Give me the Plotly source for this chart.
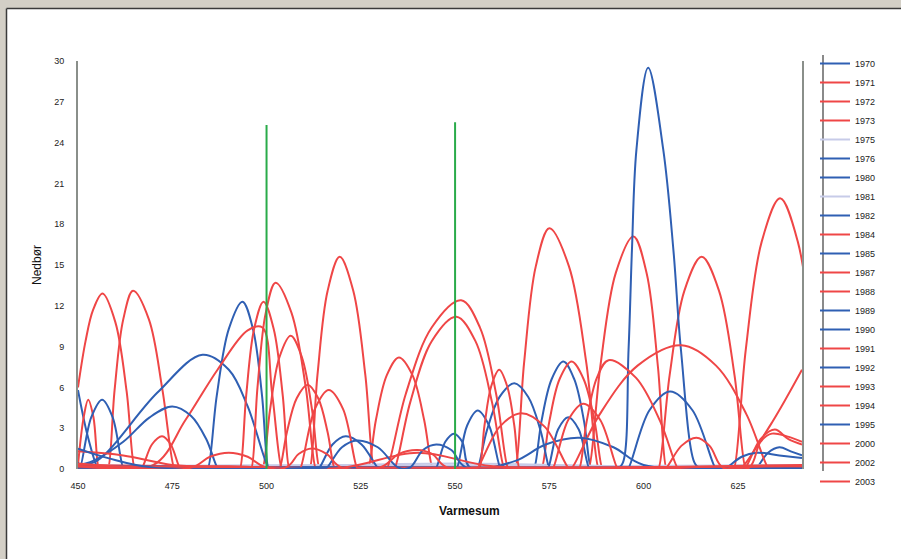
import plotly.graph_objects as go

# ---------------- data ----------------
years = ["1970", "1971", "1972", "1973", "1975", "1976", "1980", "1981", "1982", "1984",
         "1985", "1987", "1988", "1989", "1990", "1991", "1992", "1993", "1994", "1995",
         "2000", "2002", "2003"]

BLUE = "#2f5fb3"
RED = "#ef4646"
LAV = "#c7cbe8"
colors = [BLUE, RED, RED, RED, LAV, BLUE, BLUE, LAV, BLUE, RED,
          BLUE, RED, RED, BLUE, BLUE, RED, BLUE, RED, RED, BLUE,
          RED, RED, RED]

x1970 = [450, 452.5, 455, 455.3, 570.7, 571, 572.9, 575.6, 578.7, 581.6, 584.2, 586, 586.3, 642]
y1970 = [5.8, 2.5, 0.2, 0.1, 0.1, 0.1, 3.5, 6.6, 7.9, 6.6, 3.5, 0.1, 0.1, 0.3]
x1971 = [450, 452, 454, 456.5, 459.9, 462.9, 465, 465.3, 511.2, 511.5, 513.5, 516.2, 519.4, 523.0,
         526.2, 528.5, 528.8, 565.7, 566, 568.3, 571.4, 575, 580.2, 584.8, 588, 588.3, 642]
y1971 = [6.0, 9.4, 11.7, 12.9, 10.8, 5.7, 0.1, 0.1, 0.1, 0.1, 6.9, 13.1, 15.6, 13.1,
         6.9, 0.1, 0.1, 0.1, 0.1, 7.8, 14.9, 17.7, 14.9, 7.8, 0.1, 0.1, 0.1]
x1972 = [450, 457.7, 458, 459.7, 462.0, 464.6, 468.8, 472.4, 475.5, 475.8, 526.7, 527, 529.0, 531.9,
         535.1, 538.7, 541.8, 544, 544.3, 585.2, 585.5, 588.5, 592.6, 597.3, 600.8, 603.8, 606,
         606.3, 642]
y1972 = [0.3, 0.1, 0.1, 5.8, 11.0, 13.1, 11.0, 5.8, 0.1, 0.1, 0.1, 0.1, 3.6, 6.9,
         8.2, 6.9, 3.6, 0.1, 0.1, 0.1, 0.1, 7.5, 14.4, 17.1, 14.4, 7.5, 0.1,
         0.1, 0.3]
x1973 = [450, 451.5, 452.7, 454.1, 455.5, 455.8, 498.7, 499, 500.9, 503.4, 506.4, 509.4, 512.1, 514,
         514.3, 572.7, 573, 575.0, 577.7, 580.9, 584.1, 587.0, 589, 589.3, 642]
y1973 = [0.3, 3.8, 5.1, 3.8, 0.1, 0.1, 0.1, 0.1, 4.3, 8.2, 9.8, 8.2, 4.3, 0.1,
         0.1, 0.1, 0.1, 3.5, 6.6, 7.9, 6.6, 3.5, 0.1, 0.1, 0.2]
x1975 = [450, 500, 550, 600, 642]
y1975 = [0.3, 0.2, 0.4, 0.2, 0.3]
x1976 = [450, 450.5, 453.5, 456.4, 459.2, 462, 462.3, 555.7, 556, 558.4, 561.8, 565.7, 569.4, 572.7,
         575, 575.3, 629.7, 630, 633, 636, 639, 642]
y1976 = [0.5, 0.1, 3.8, 5.1, 3.8, 0.1, 0.1, 0.1, 0.1, 2.8, 5.3, 6.3, 5.3, 2.8,
         0.1, 0.1, 0.1, 0.1, 1.2, 1.6, 1.3, 1.0]
x1980 = [450, 455, 471, 483, 490, 495, 500.5, 500.8, 642]
y1980 = [0.3, 0.6, 5.6, 8.4, 7.3, 4.6, 0.1, 0.1, 0.1]
x1981 = [450, 520, 580, 642]
y1981 = [0.2, 0.3, 0.2, 0.3]
x1982 = [450, 484.2, 484.5, 486.8, 490.0, 493.6, 496.4, 498.8, 500.5, 500.8, 550.2, 550.5, 553.2, 556,
         559, 562, 562.3, 642]
y1982 = [0.1, 0.1, 0.1, 5.4, 10.3, 12.3, 10.3, 5.4, 0.1, 0.1, 0.1, 0.1, 3.2, 4.3,
         3.2, 0.1, 0.1, 0.1]
x1984 = [450, 466.7, 467, 469.6, 472.3, 474.6, 477, 477.3, 495.7, 496, 497.6, 499.8, 502.4, 506.6,
         510.4, 513, 513.3, 603.7, 604, 606.9, 610.8, 615.4, 620.0, 624.1, 627, 627.3, 642]
y1984 = [0.2, 0.1, 0.1, 1.8, 2.4, 1.8, 0.1, 0.1, 0.1, 0.1, 6.0, 11.5, 13.7, 11.5,
         6.0, 0.1, 0.1, 0.1, 0.1, 6.9, 13.1, 15.6, 13.1, 6.9, 0.1, 0.1, 0.2]
x1985 = [450, 593, 594.4, 596, 596.9, 598.1, 601.2, 605.2, 607.9, 609.9, 613.6, 615, 642]
y1985 = [0.1, 0.1, 0.4, 8.75, 16.1, 23.5, 29.5, 23.5, 16.1, 8.75, 0.4, 0.1, 0.1]
x1987 = [450, 470, 478.5, 487, 495, 498.9, 501.5, 504, 504.3, 556.2, 556.5, 557.8, 559.6, 561.7,
         563.8, 565.7, 567, 567.3, 623.7, 624, 627.1, 631.3, 636.2, 640.9, 645.1, 648]
y1987 = [0.2, 0.3, 3.6, 7.3, 10.2, 10.4, 5.5, 0.1, 0.1, 0.1, 0.1, 3.2, 6.1, 7.3,
         6.1, 3.2, 0.1, 0.1, 0.1, 0.1, 8.8, 16.7, 19.9, 16.7, 8.8, 0.1]
x1988 = [450, 492.7, 493, 494.6, 496.7, 499.2, 501.9, 504.3, 506, 506.3, 531.7, 532, 536.9, 543.8,
         551.6, 556.6, 560.9, 564, 564.3, 580.7, 581, 588.3, 598.4, 610, 619.2, 627.3, 633, 633.3, 642]
y1988 = [0.1, 0.1, 0.1, 5.4, 10.3, 12.3, 10.3, 5.4, 0.1, 0.1, 0.1, 0.1, 5.5, 10.4,
         12.4, 10.4, 5.5, 0.1, 0.1, 0.1, 0.1, 4.0, 7.6, 9.1, 7.6, 4.0, 0.1, 0.1, 0.2]
x1989 = [450, 454, 462, 469, 475, 480, 484, 487, 487.3, 574.4, 574.7, 577.3, 580, 582.8, 585.5, 585.8, 642]
y1989 = [0.3, 0.6, 2.0, 3.8, 4.6, 3.9, 2.2, 0.1, 0.1, 0.1, 0.1, 2.9, 3.8, 2.9, 0.1, 0.1, 0.1]
x1990 = [450, 513.7, 514, 517.5, 521, 525.2, 529.5, 529.8, 595.7, 596, 601.5, 607, 613, 619, 619.3, 642]
y1990 = [0.1, 0.1, 0.1, 1.8, 2.4, 1.8, 0.1, 0.1, 0.1, 0.1, 4.3, 5.7, 4.3, 0.1, 0.1, 0.1]
x1991 = [450, 503.2, 503.5, 505.4, 508.0, 510.9, 513.7, 516.2, 518, 518.3, 533.7, 534, 538.1, 543.8,
         550.3, 555.4, 559.8, 563, 563.3, 582.7, 583, 584.9, 587.6, 590.7, 598.0, 604.4, 609, 609.3, 642]
y1991 = [0.3, 0.1, 0.1, 2.7, 5.2, 6.2, 5.2, 2.7, 0.1, 0.1, 0.1, 0.1, 4.9, 9.4,
         11.2, 9.4, 4.9, 0.1, 0.1, 0.1, 0.1, 3.5, 6.7, 8.0, 6.7, 3.5, 0.1, 0.1, 0.2]
x1992 = [450, 544.7, 545, 547.4, 549.7, 551.9, 554, 566, 574, 583, 592, 600, 642]
y1992 = [0.2, 0.1, 0.1, 2.0, 2.6, 2.0, 0.1, 0.6, 1.8, 2.3, 1.6, 0.3, 0.2]
x1993 = [450, 508.7, 509, 512.8, 516.5, 520.3, 524, 524.3, 625.7, 626, 634, 642]
y1993 = [0.2, 0.1, 0.1, 4.4, 5.8, 4.4, 0.1, 0.1, 0.1, 0.1, 3.4, 7.3]
x1994 = [450, 462, 475, 490, 520, 540, 560, 600, 626.7, 627, 631, 634.8, 638.4, 642]
y1994 = [1.3, 1.0, 0.3, 0.2, 0.1, 1.2, 0.2, 0.1, 0.1, 0.1, 2.2, 2.9, 2.2, 1.8]
x1995 = [450, 458, 470, 515.7, 516, 520, 524, 529.5, 535, 538, 541.5, 545, 549, 553,
         621.7, 622, 626, 630, 636, 642]
y1995 = [1.5, 0.8, 0.1, 0.1, 0.1, 1.6, 2.1, 1.6, 0.1, 0.1, 1.4, 1.8, 1.4, 0.1,
         0.1, 0.1, 0.9, 1.2, 1.0, 0.8]
x2000 = [450, 480, 485, 490, 495, 500, 555.7, 556, 561.8, 567.5, 573.8, 580, 580.3, 642]
y2000 = [0.2, 0.1, 0.9, 1.2, 0.9, 0.1, 0.1, 0.1, 3.1, 4.1, 3.1, 0.1, 0.1, 0.2]
x2002 = [450, 505, 508.5, 512, 516, 520, 575.7, 576, 580, 584, 588.5, 593, 593.3, 642]
y2002 = [0.4, 0.1, 1.1, 1.5, 1.1, 0.1, 0.1, 0.1, 3.6, 4.8, 3.6, 0.1, 0.1, 0.3]
x2003 = [450, 530, 535, 540, 544, 548, 605.7, 606, 610, 614, 617.5, 621, 628, 631, 634, 638, 642]
y2003 = [0.2, 0.1, 1.1, 1.4, 1.1, 0.1, 0.1, 0.1, 1.7, 2.3, 1.7, 0.1, 0.1, 2.0, 2.6, 2.4, 2.0]

series_x = [x1970, x1971, x1972, x1973, x1975, x1976, x1980, x1981, x1982, x1984,
            x1985, x1987, x1988, x1989, x1990, x1991, x1992, x1993, x1994, x1995,
            x2000, x2002, x2003]
series_y = [y1970, y1971, y1972, y1973, y1975, y1976, y1980, y1981, y1982, y1984,
            y1985, y1987, y1988, y1989, y1990, y1991, y1992, y1993, y1994, y1995,
            y2000, y2002, y2003]

marker_x = [500, 550]
marker_top = [25.3, 25.5]

x_ticks = [450, 475, 500, 525, 550, 575, 600, 625]
y_ticks = [0, 3, 6, 9, 12, 15, 18, 21, 24, 27, 30]

# ---------------- figure ----------------
W, H = 901, 559
L, R, T, B = 78, 802, 61, 469

fig = go.Figure()
for name, xs, ys, c in zip(years, series_x, series_y, colors):
    fig.add_trace(go.Scatter(x=xs, y=ys, name=name, mode="lines",
                             line=dict(color=c, width=2, shape="spline", smoothing=1.0)))

for mx, mt in zip(marker_x, marker_top):
    fig.add_trace(go.Scatter(x=[mx, mx], y=[0, mt], mode="lines", showlegend=False,
                             line=dict(color="#2aab4a", width=2), hoverinfo="skip"))


def px_x(p):
    return (p - L) / (R - L)


def px_y(p):
    return (B - p) / (B - T)


shapes = [
    # textured frame strips
    dict(type="rect", xref="paper", yref="paper", x0=px_x(-5), x1=px_x(6), y0=px_y(570), y1=px_y(-5),
         fillcolor="#d3cfc6", line=dict(width=0), layer="below"),
    dict(type="rect", xref="paper", yref="paper", x0=px_x(-5), x1=px_x(910), y0=px_y(8), y1=px_y(-5),
         fillcolor="#d3cfc6", line=dict(width=0), layer="below"),
    dict(type="line", xref="paper", yref="paper", x0=px_x(6.5), x1=px_x(6.5), y0=px_y(570), y1=px_y(8.5),
         line=dict(color="#3a3a3a", width=1.5)),
    dict(type="line", xref="paper", yref="paper", x0=px_x(6.5), x1=px_x(910), y0=px_y(8.5), y1=px_y(8.5),
         line=dict(color="#3a3a3a", width=1.5)),
    # legend separator line
    dict(type="line", xref="paper", yref="paper", x0=px_x(823), x1=px_x(823), y0=px_y(471), y1=px_y(55),
         line=dict(color="#8a8a8a", width=2)),
]

fig.update_layout(
    width=W, height=H, autosize=False,
    margin=dict(l=L, r=W - R, t=T, b=H - B, pad=0),
    paper_bgcolor="white", plot_bgcolor="white",
    font=dict(family="Liberation Sans, Arial, sans-serif", size=9, color="#222"),
    showlegend=True,
    legend=dict(x=px_x(815), y=px_y(49), xanchor="left", yanchor="top",
                font=dict(size=9, color="#222"), bgcolor="rgba(0,0,0,0)",
                itemwidth=30, tracegroupgap=0, maxheight=540),
    shapes=shapes,
    annotations=[
        dict(text="Nedbør", xref="paper", yref="paper", x=px_x(28), y=px_y(265),
             textangle=-90, showarrow=False, font=dict(size=12, color="#111")),
        dict(text="<b>Varmesum</b>", xref="paper", yref="paper", x=px_x(469), y=px_y(520),
             showarrow=False, font=dict(size=12, color="#111")),
    ],
)

fig.update_xaxes(range=[450, 642], tickvals=x_ticks, ticktext=[str(v) for v in x_ticks],
                 showgrid=False, zeroline=False, showline=False, ticks="",
                 ticklabelstandoff=10, tickfont=dict(size=9))
fig.update_yaxes(range=[0, 30], tickvals=y_ticks, ticktext=[str(v) for v in y_ticks],
                 showgrid=False, zeroline=False, showline=True, linecolor="#8a8f8a",
                 linewidth=2, mirror=True, ticks="", ticklabelstandoff=10,
                 tickfont=dict(size=9))

fig.write_html("out.html", config={"displayModeBar": False},
               post_script="document.body.style.margin='0';document.body.style.padding='0';")
